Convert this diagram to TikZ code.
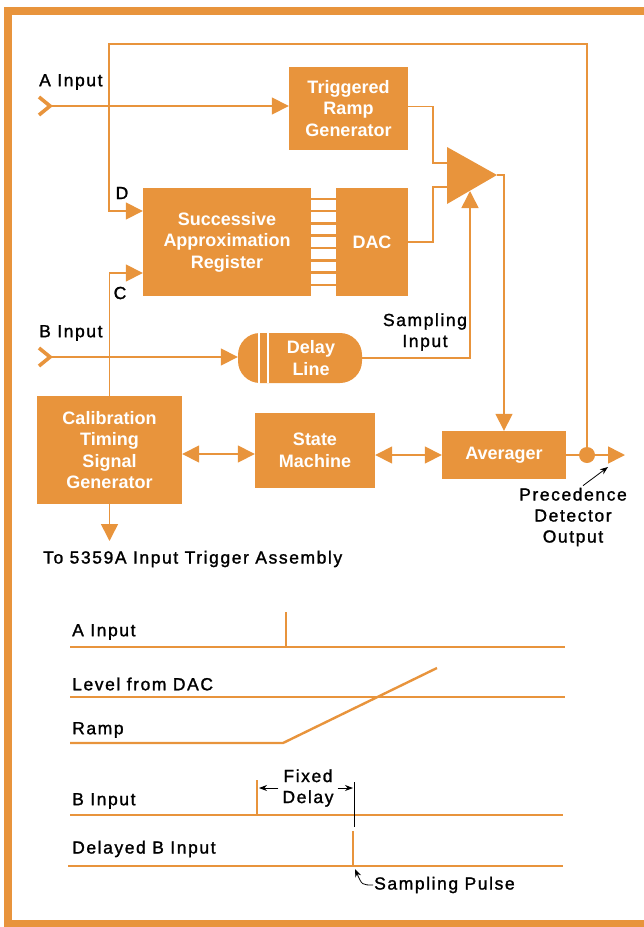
\documentclass[tikz,border=0pt]{standalone}
\usepackage{fontspec}
\setmainfont{Liberation Sans}
\newfontfamily\lblfont[LetterSpace=9,FakeBold=1.4]{Liberation Sans}
\usetikzlibrary{arrows.meta,positioning,shapes.misc}

\definecolor{hporange}{RGB}{232,148,60}

\tikzset{
  blk/.style={fill=hporange, text=white, font=\bfseries\fontsize{18}{21.5}\selectfont,
    align=center, inner sep=0pt},
  lbl/.style={font=\lblfont\fontsize{17.5}{21}\selectfont, text=black, inner sep=0pt},
  wire/.style={draw=hporange, line width=1.6pt},
  sig/.style={draw=hporange, line width=2.4pt},
  arr/.style={-{Triangle[length=17pt,width=17pt]}},
  darr/.style={{Triangle[length=17pt,width=17pt]}-{Triangle[length=17pt,width=17pt]}},
  ptr/.style={draw=black, line width=0.8pt, -{Stealth[length=8pt,width=6pt]}},
  chevron/.pic={\draw[hporange, line width=3.6pt] (-6,-9) -- (5,0) -- (-6,9);},
}

\begin{document}
\begin{tikzpicture}[x=1pt,y=-1pt]
\useasboundingbox (0,0) rectangle (644,927);
% frame
\draw[hporange, line width=8pt] (644,11) -- (8,11) -- (8,924) -- (644,924);

% blocks
\node[blk, minimum width=119pt, minimum height=83pt] (trg) at (348.5,108.5) {Triggered\\Ramp\\Generator};
\node[blk, minimum width=168pt, minimum height=108pt] (sar) at (227,242) {Successive\\Approximation\\Register};
\node[blk, minimum width=72pt, minimum height=108pt] (dac) at (372,242) {DAC};
\node[blk, rounded corners=22pt, minimum width=124pt, minimum height=50pt,
  path picture={
    \draw[white, line width=1.8pt] ([xshift=21pt]path picture bounding box.north west) -- ([xshift=21pt]path picture bounding box.south west);
    \draw[white, line width=1.8pt] ([xshift=30pt]path picture bounding box.north west) -- ([xshift=30pt]path picture bounding box.south west);
  }] (dly) at (300,358) {\hspace*{22pt}Delay\\\hspace*{22pt}Line};
\node[blk, minimum width=145pt, minimum height=108pt] (cal) at (109.5,450) {Calibration\\Timing\\Signal\\Generator};
\node[blk, minimum width=120pt, minimum height=75pt] (stm) at (315,450.5) {State\\Machine};
\node[blk, minimum width=124pt, minimum height=48pt] (avg) at (504,455) {Averager};
\node[circle, fill=hporange, minimum size=16pt, inner sep=0pt] (dot) at (587,455) {};

% comparator
\coordinate (cmpin1) at (447,163);
\coordinate (cmpin2) at (447,187);
\coordinate (cmpout) at (497,175);
\coordinate (cmpsmp) at (470,191);
\fill[hporange] (447,147) -- (447,204) -- (cmpout) -- cycle;

% inputs
\pic at (45,106) {chevron};
\coordinate (ain) at (50,106);
\pic at (45,357) {chevron};
\coordinate (bin) at (50,357);
\node[lbl, anchor=west] (alab) at (39,82) {A Input};
\node[lbl, anchor=west] (blab) at (39,333) {B Input};
\node[lbl] (dlab) at (122,193) {D};
\node[lbl] (clab) at (120,293) {C};
\node[lbl, align=center] (smp) at (425,332) {Sampling\\Input};

% connectors
\coordinate (fbl) at (109,44);
\coordinate (jr) at (433,163);
\coordinate (jd) at (433,187);
\draw[wire, arr] (ain) -- (ain -| trg.west);
\draw[wire, arr] (dot) |- (fbl) |- ([yshift=31pt]sar.west);
\draw[wire, arr] (cal.north) |- ([yshift=-31pt]sar.west);
\draw[wire] ([yshift=2pt]trg.east) -| (jr) -- (cmpin1);
\draw[wire] (dac.east) -| (jd) -- (cmpin2);
\draw[wire, arr] (cmpout) -| (avg.north);
\draw[wire, arr] (bin) -- (bin -| dly.west);
\draw[wire, arr] (dly.east) -| (cmpsmp);
\path (cal.east) ++(0,4) coordinate (cs);
\draw[wire, darr] (cs) -- (cs -| stm.west);
\draw[wire, darr] (avg.west -| stm.east) -- (avg.west);
\draw[wire] (avg.east) -- (dot);
\coordinate (out) at (625,455);
\draw[wire, arr] (dot) -- (out);
% bus
\foreach \i in {0,...,7}{
  \path (sar.north east) ++(0,11+\i*12.3) coordinate (bus);
  \draw[wire, line width=2.6pt] (bus) -- (bus -| dac.west);
}

% outputs
\coordinate (trig) at (106,541);
\draw[wire, arr] (cal.south) -- (cal.south |- trig);
\node[lbl, anchor=west] (trigtxt) at (43,559) {To 5359A Input Trigger Assembly};
\node[lbl, align=center] (pdo) at (573,517) {Precedence\\Detector\\Output};
\coordinate (pdotip) at (608,467);
\draw[ptr] ([xshift=10pt,yshift=2pt]pdo.north) -- (pdotip);

% timing diagram
\node[lbl, anchor=west] (ta) at (72,632) {A Input};
\node[lbl, anchor=west] (tl) at (72,684) {Level from DAC};
\node[lbl, anchor=west] (tr) at (72,730) {Ramp};
\node[lbl, anchor=west] (tb) at (72,801) {B Input};
\node[lbl, anchor=west] (tdb) at (72,849) {Delayed B Input};
\draw[sig] (70,647) -- (565,647);
\draw[sig] (286,612) -- (286,647);
\draw[sig] (70,697) -- (565,697);
\draw[sig] (70,743) -- (283,743) -- (437,668);
\draw[sig] (70,815) -- (563,815);
\draw[sig] (257,780) -- (257,815);
\draw[sig] (68,866) -- (563,866);
\draw[sig] (353,831) -- (353,866);
\draw[black, line width=0.8pt] (354,782) -- (354,827);
\node[lbl, align=center] (fd) at (308,788) {Fixed\\Delay};
\draw[ptr] ([xshift=-4pt]fd.west) -- (259,788);
\draw[ptr] ([xshift=4pt]fd.east) -- (353,788);
\node[lbl, anchor=west] (sp) at (374,885) {Sampling Pulse};
\draw[ptr] ([xshift=-1pt]sp.west) .. controls (362,885) .. (355,869);
\end{tikzpicture}
\end{document}
